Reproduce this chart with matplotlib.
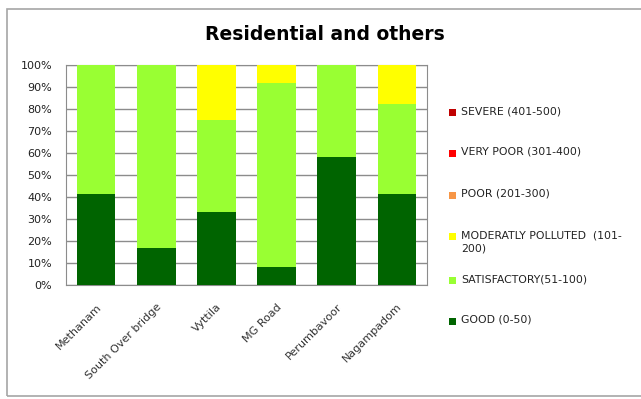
import matplotlib.pyplot as plt
from matplotlib.patches import Rectangle

locations = ['Methanam', 'South Over bridge', 'Vyttila', 'MG Road', 'Perumbavoor', 'Nagampadom']
good = [41.2, 16.7, 33.3, 8.3, 58.3, 41.2]
satisfactory = [58.8, 83.3, 41.7, 83.4, 41.7, 41.2]
moderate = [0, 0, 25.0, 8.3, 0, 17.6]
poor = [0, 0, 0, 0, 0, 0]
very_poor = [0, 0, 0, 0, 0, 0]
severe = [0, 0, 0, 0, 0, 0]

series = [
    ('GOOD (0-50)', good, '#006400'),
    ('SATISFACTORY(51-100)', satisfactory, '#99FF33'),
    ('MODERATLY POLLUTED  (101-\n200)', moderate, '#FFFF00'),
    ('POOR (201-300)', poor, '#F79646'),
    ('VERY POOR (301-400)', very_poor, '#FF0000'),
    ('SEVERE (401-500)', severe, '#C00000'),
]

W, H = 641, 399
fig = plt.figure(figsize=(W / 100, H / 100), dpi=100)
fig.patches.append(Rectangle((7 / W, 3 / H), 1.0, 387 / H, transform=fig.transFigure,
                             fill=False, edgecolor='#A6A6A6', linewidth=1.2))

ax = fig.add_axes([66 / W, 114 / H, 361 / W, 220 / H])
x = range(len(locations))
bottom = [0] * len(locations)
for label, vals, color in series:
    ax.bar(x, vals, width=0.64, bottom=bottom, color=color, label=label, zorder=3)
    bottom = [b + v for b, v in zip(bottom, vals)]

ax.set_ylim(0, 100)
ax.set_xlim(-0.5, len(locations) - 0.5)
ax.set_yticks(range(0, 101, 10))
ax.set_yticklabels([f'{v}%' for v in range(0, 101, 10)], fontsize=8, color='#222222')
ax.set_xticks(list(x))
ax.set_xticklabels(locations, rotation=45, ha='right', va='top', rotation_mode='anchor',
                   fontsize=8, color='#333333')
ax.tick_params(axis='y', length=0, pad=10)
ax.tick_params(axis='x', length=0, pad=12)
ax.yaxis.grid(True, color='#8C8C8C', linewidth=1, zorder=0)
for s in ax.spines.values():
    s.set_color('#8C8C8C')

fig.text(325 / W, 1 - 35 / H, 'Residential and others', ha='center', va='center',
         fontsize=13.5, fontweight='bold', color='black')

# legend entries, top to bottom, like the Excel legend
legend_y = [112, 153, 195, 236, 280, 321]
for (label, vals, color), y in zip(series[::-1], legend_y):
    fig.patches.append(Rectangle((449 / W, 1 - (y + 4) / H), 7 / W, 7 / H,
                                 transform=fig.transFigure, facecolor=color, edgecolor='none'))
    fig.text(461 / W, 1 - (y - 6) / H, label, ha='left', va='top', fontsize=7.8,
             color='#222222', linespacing=1.45)

fig.savefig('out.png', dpi=100)
